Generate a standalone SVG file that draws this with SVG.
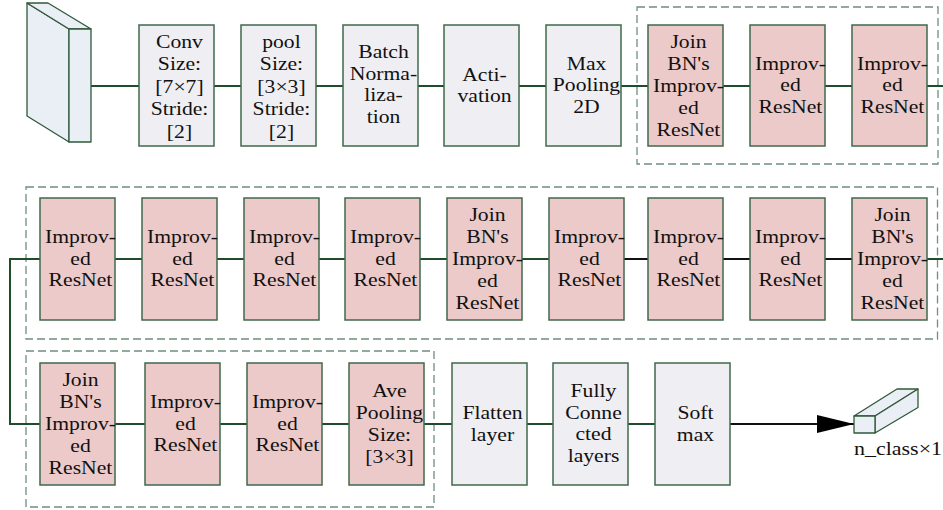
<svg xmlns="http://www.w3.org/2000/svg" width="943" height="510" viewBox="0 0 943 510" font-family="'Liberation Serif', 'DejaVu Serif', serif">
  <style>
    .gray { fill: #efeef3; stroke: #3f6a4b; stroke-width: 1.5; }
    .pink { fill: #ebcac9; stroke: #3f6a4b; stroke-width: 1.5; }
    .solid { fill: #eaeef5; stroke: #2f5a3a; stroke-width: 1.3; stroke-linejoin: round; }
    .group { fill: none; stroke: #6f8f7f; stroke-width: 1.3; stroke-dasharray: 8 4; }
    .wire { fill: none; stroke: #1f4d2b; stroke-width: 2; }
    .wire-dark { fill: none; stroke: #111; stroke-width: 2; }
    text { font-family: 'Liberation Serif', 'DejaVu Serif', serif; font-size: 19px; fill: #111; text-anchor: middle;
           transform-box: fill-box; transform-origin: center; transform: translateX(3px) scaleX(1.14); }
    text.lbl { text-anchor: start; font-size: 19px; transform: none; }
  </style>
  <defs>
    <marker id="head" viewBox="0 0 37 18" refX="37" refY="9" markerWidth="37" markerHeight="18" markerUnits="userSpaceOnUse" orient="auto">
      <path d="M0,0 L37,9 L0,18 Z" fill="#000"/>
    </marker>
  </defs>

  <rect width="943" height="510" fill="#fff"/>

  <!-- stage groupings -->
  <g id="groups">
    <rect class="group" x="637" y="7" width="301" height="157"/>
    <rect class="group" x="26" y="187" width="911.5" height="152"/>
    <rect class="group" x="26" y="351" width="408" height="156"/>
  </g>

  <!-- connectors -->
  <g id="connectors">
    <path class="wire" d="M91,86 H943"/>
    <path class="wire" d="M624,259 H10 V424 H655"/>
    <path class="wire-dark" d="M624,259 H927"/>
    <path class="wire" d="M927,259 H943"/>
    <path class="wire-dark" d="M730,424 H854" marker-end="url(#head)"/>
  </g>

  <!-- input volume -->
  <g id="input">
    <polygon class="solid" points="27,3 69,29 69,142 27,116"/>
    <polygon class="solid" points="27,3 48,3 91,29 69,29"/>
    <rect class="solid" x="69" y="29" width="22" height="113"/>
  </g>

  <!-- row 1 -->
  <g id="conv">
    <rect class="gray" x="139" y="25" width="75" height="121"/>
    <text x="176.5" y="48">Conv</text>
    <text x="176.5" y="70.5">Size:</text>
    <text x="176.5" y="93">[7×7]</text>
    <text x="176.5" y="115.5">Stride:</text>
    <text x="176.5" y="138">[2]</text>
  </g>
  <g id="pool">
    <rect class="gray" x="241" y="25" width="75" height="121"/>
    <text x="278.5" y="48">pool</text>
    <text x="278.5" y="70.5">Size:</text>
    <text x="278.5" y="93">[3×3]</text>
    <text x="278.5" y="115.5">Stride:</text>
    <text x="278.5" y="138">[2]</text>
  </g>
  <g id="batchnorm">
    <rect class="gray" x="343" y="25" width="75" height="121"/>
    <text x="380.5" y="58.5">Batch</text>
    <text x="380.5" y="80">Norma-</text>
    <text x="380.5" y="101.5">liza-</text>
    <text x="380.5" y="123">tion</text>
  </g>
  <g id="activation">
    <rect class="gray" x="444" y="25" width="75" height="121"/>
    <text x="481.5" y="81">Acti-</text>
    <text x="481.5" y="102.5">vation</text>
  </g>
  <g id="maxpool">
    <rect class="gray" x="546" y="25" width="75" height="121"/>
    <text x="583.5" y="70">Max</text>
    <text x="583.5" y="91.5">Pooling</text>
    <text x="583.5" y="113">2D</text>
  </g>
  <g id="join1">
    <rect class="pink" x="648" y="25" width="75" height="121"/>
    <text x="685.5" y="48">Join</text>
    <text x="685.5" y="70">BN's</text>
    <text x="685.5" y="92">Improv-</text>
    <text x="685.5" y="114">ed</text>
    <text x="685.5" y="136">ResNet</text>
  </g>
  <g id="res1a">
    <rect class="pink" x="750" y="25" width="75" height="121"/>
    <text x="787.5" y="70">Improv-</text>
    <text x="787.5" y="91.5">ed</text>
    <text x="787.5" y="113">ResNet</text>
  </g>
  <g id="res1b">
    <rect class="pink" x="852" y="25" width="75" height="121"/>
    <text x="889.5" y="70">Improv-</text>
    <text x="889.5" y="91.5">ed</text>
    <text x="889.5" y="113">ResNet</text>
  </g>

  <!-- row 2 -->
  <g id="res2a">
    <rect class="pink" x="40" y="198" width="75" height="122"/>
    <text x="77.5" y="243.5">Improv-</text>
    <text x="77.5" y="265">ed</text>
    <text x="77.5" y="286.5">ResNet</text>
  </g>
  <g id="res2b">
    <rect class="pink" x="142" y="198" width="75" height="122"/>
    <text x="179.5" y="243.5">Improv-</text>
    <text x="179.5" y="265">ed</text>
    <text x="179.5" y="286.5">ResNet</text>
  </g>
  <g id="res2c">
    <rect class="pink" x="244" y="198" width="75" height="122"/>
    <text x="281.5" y="243.5">Improv-</text>
    <text x="281.5" y="265">ed</text>
    <text x="281.5" y="286.5">ResNet</text>
  </g>
  <g id="res2d">
    <rect class="pink" x="345" y="198" width="75" height="122"/>
    <text x="382.5" y="243.5">Improv-</text>
    <text x="382.5" y="265">ed</text>
    <text x="382.5" y="286.5">ResNet</text>
  </g>
  <g id="join2">
    <rect class="pink" x="447" y="198" width="75" height="122"/>
    <text x="484.5" y="221">Join</text>
    <text x="484.5" y="243">BN's</text>
    <text x="484.5" y="265">Improv-</text>
    <text x="484.5" y="287">ed</text>
    <text x="484.5" y="309">ResNet</text>
  </g>
  <g id="res2e">
    <rect class="pink" x="549" y="198" width="75" height="122"/>
    <text x="586.5" y="243.5">Improv-</text>
    <text x="586.5" y="265">ed</text>
    <text x="586.5" y="286.5">ResNet</text>
  </g>
  <g id="res2f">
    <rect class="pink" x="648" y="198" width="75" height="122"/>
    <text x="685.5" y="243.5">Improv-</text>
    <text x="685.5" y="265">ed</text>
    <text x="685.5" y="286.5">ResNet</text>
  </g>
  <g id="res2g">
    <rect class="pink" x="750" y="198" width="75" height="122"/>
    <text x="787.5" y="243.5">Improv-</text>
    <text x="787.5" y="265">ed</text>
    <text x="787.5" y="286.5">ResNet</text>
  </g>
  <g id="join3">
    <rect class="pink" x="852" y="198" width="75" height="122"/>
    <text x="889.5" y="221">Join</text>
    <text x="889.5" y="243">BN's</text>
    <text x="889.5" y="265">Improv-</text>
    <text x="889.5" y="287">ed</text>
    <text x="889.5" y="309">ResNet</text>
  </g>

  <!-- row 3 -->
  <g id="join4">
    <rect class="pink" x="40" y="363" width="75" height="122"/>
    <text x="77.5" y="386">Join</text>
    <text x="77.5" y="408">BN's</text>
    <text x="77.5" y="430">Improv-</text>
    <text x="77.5" y="452">ed</text>
    <text x="77.5" y="474">ResNet</text>
  </g>
  <g id="res3a">
    <rect class="pink" x="145" y="363" width="75" height="122"/>
    <text x="182.5" y="408.5">Improv-</text>
    <text x="182.5" y="430">ed</text>
    <text x="182.5" y="451.5">ResNet</text>
  </g>
  <g id="res3b">
    <rect class="pink" x="247" y="363" width="75" height="122"/>
    <text x="284.5" y="408.5">Improv-</text>
    <text x="284.5" y="430">ed</text>
    <text x="284.5" y="451.5">ResNet</text>
  </g>
  <g id="avepool">
    <rect class="pink" x="349" y="363" width="75" height="122"/>
    <text x="386.5" y="397">Ave</text>
    <text x="386.5" y="419">Pooling</text>
    <text x="386.5" y="441">Size:</text>
    <text x="386.5" y="463">[3×3]</text>
  </g>
  <g id="flatten">
    <rect class="gray" x="452" y="363" width="75" height="122"/>
    <text x="489.5" y="419.5">Flatten</text>
    <text x="489.5" y="441">layer</text>
  </g>
  <g id="dense">
    <rect class="gray" x="553" y="363" width="75" height="122"/>
    <text x="590.5" y="397.5">Fully</text>
    <text x="590.5" y="419">Conne</text>
    <text x="590.5" y="440.5">cted</text>
    <text x="590.5" y="462">layers</text>
  </g>
  <g id="softmax">
    <rect class="gray" x="655" y="363" width="75" height="122"/>
    <text x="692.5" y="419.5">Soft</text>
    <text x="692.5" y="441">max</text>
  </g>

  <!-- output vector -->
  <g id="output">
    <polygon class="solid" points="854,416 875,416 918,389 897,389"/>
    <polygon class="solid" points="875,416 918,389 918,407.5 875,433"/>
    <rect class="solid" x="854" y="416" width="21" height="17"/>
    <text class="lbl" x="854" y="455" textLength="88" lengthAdjust="spacingAndGlyphs">n_class×1</text>
  </g>
</svg>
